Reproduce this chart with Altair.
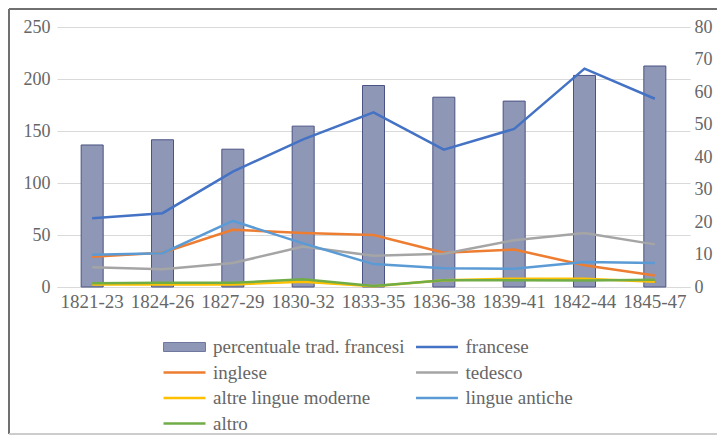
import altair as alt
import pandas as pd

periods = ["1821-23", "1824-26", "1827-29", "1830-32", "1833-35",
           "1836-38", "1839-41", "1842-44", "1845-47"]
perc_francesi = [43.7, 45.3, 42.4, 49.5, 62.0, 58.4, 57.2, 65.1, 68.0]
francese = [66, 71, 111, 142, 168, 132, 152, 210, 181]
inglese = [29, 33, 55, 52, 50, 33, 36, 21, 11]
tedesco = [19, 17, 23, 39, 30, 32, 45, 52, 41]
altre_lingue_moderne = [2.5, 2.5, 2.5, 5, 0.7, 6.4, 8, 8, 5]
lingue_antiche = [31, 32.5, 63.5, 42, 22, 18, 17.5, 24, 23]
altro = [3.5, 4, 4, 7.5, 1, 6.4, 6.5, 6.3, 7]

bar_name = "percentuale trad. francesi"
series_names = ["francese", "inglese", "tedesco", "altre lingue moderne",
                "lingue antiche", "altro"]
series_values = [francese, inglese, tedesco, altre_lingue_moderne,
                 lingue_antiche, altro]
series_colors = ["#4472C4", "#ED7D31", "#A5A5A5", "#FFC000", "#5B9BD5", "#70AD47"]
bar_fill = "#8F97B7"
bar_stroke = "#4A5383"
bar_legend_stroke = "#6F789F"

# legend order (Vega fills legend columns top to bottom)
legend_order = [bar_name, "inglese", "altre lingue moderne", "altro",
                "francese", "tedesco", "lingue antiche"]
color_of = dict(zip([bar_name] + series_names, [bar_legend_stroke] + series_colors))

bars_df = pd.DataFrame({"periodo": periods, "valore": perc_francesi})
lines_df = pd.DataFrame(
    [{"periodo": p, "serie": n, "valore": v}
     for n, vals in zip(series_names, series_values)
     for p, v in zip(periods, vals)]
)

FONT = "Liberation Serif, Times New Roman, DejaVu Serif, serif"
TEXT = "#666666"
GRID = "#D9D9D9"

x_enc = alt.X(
    "periodo:N", sort=periods,
    scale=alt.Scale(type="band", paddingInner=0, paddingOuter=0),
    axis=alt.Axis(title=None, labelAngle=0, ticks=False, domainColor=GRID,
                  labelPadding=5, labelFontSize=19),
)

bars = alt.Chart(bars_df).mark_bar(
    size=22, fill=bar_fill, stroke=bar_stroke, strokeWidth=1
).encode(
    x=x_enc,
    y=alt.Y("valore:Q", scale=alt.Scale(domain=[0, 80], nice=False),
            axis=alt.Axis(orient="right", values=list(range(0, 81, 10)),
                          grid=False, ticks=False, domain=False, title=None,
                          labelPadding=4)),
)

is_bar = f"datum.value == '{bar_name}'"
lines = alt.Chart(lines_df).mark_line().encode(
    x=x_enc,
    y=alt.Y("valore:Q", scale=alt.Scale(domain=[0, 250], nice=False),
            axis=alt.Axis(orient="left", values=list(range(0, 251, 50)),
                          grid=True, gridColor=GRID, ticks=False, domain=False,
                          title=None, labelPadding=7)),
    strokeWidth=alt.value(2.5),
    color=alt.Color(
        "serie:N",
        scale=alt.Scale(domain=legend_order,
                        range=[color_of[n] for n in legend_order]),
        legend=alt.Legend(
            orient="none", legendX=106, legendY=311, columns=2, title=None,
            symbolType={"expr": f"{is_bar} ? 'M-2.33,-0.5H2.33V0.5H-2.33Z' : 'M-2.33,0H2.33'"},
            symbolFillColor={"expr": f"{is_bar} ? '{bar_fill}' : 'transparent'"},
            symbolStrokeWidth={"expr": f"{is_bar} ? 1 : 2.5"},
            symbolSize=324, symbolOffset=12, clipHeight=18, rowPadding=6.5,
            columnPadding=10.5, labelOffset=19, labelFont=FONT, labelFontSize=19,
            labelColor=TEXT, labelLimit=400, padding=0, symbolOpacity=1,
        ),
    ),
)

frame_top = alt.Chart(bars_df).mark_rule(color="#707070", strokeWidth=2).encode(
    x=alt.value(-48), x2=alt.value(660), y=alt.value(-18))
frame_left = alt.Chart(bars_df).mark_rule(color="#707070", strokeWidth=2).encode(
    x=alt.value(-48), y=alt.value(-18), y2=alt.value(407))
frame_bottom = alt.Chart(bars_df).mark_rule(color="#CCCCCC", strokeWidth=1).encode(
    x=alt.value(-48), x2=alt.value(660), y=alt.value(407))

chart = alt.layer(bars, lines, frame_top, frame_left, frame_bottom).resolve_scale(
    y="independent"
).properties(
    width=633, height=260,
    autosize=alt.AutoSizeParams(type="none"),
    padding={"left": 49, "top": 19, "right": 27, "bottom": 148},
).configure_axis(
    labelFont=FONT, labelFontSize=18, labelColor=TEXT,
).configure_view(stroke=None)

chart.save("out.html", embed_options={"renderer": "svg", "actions": False})
